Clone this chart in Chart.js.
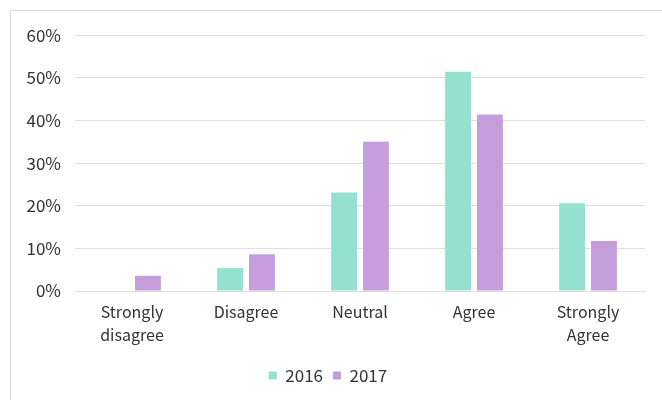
<!DOCTYPE html>
<html>
<head>
<meta charset="utf-8">
<script src="https://cdn.jsdelivr.net/npm/chart.js@4"></script>
<style>
    body { margin: 0; background: #fff; overflow: hidden; }
    #box {
        position: absolute;
        left: 10px;
        top: 10px;
        width: 660px;
        height: 400px;
        border: 1px solid #dcdcdc;
        box-sizing: border-box;
    }
    #wrap { position: absolute; left: 0; top: 0; width: 651px; height: 389px; }
</style>
</head>
<body>
<div id="box">
    <div id="wrap"><canvas id="chart"></canvas></div>
</div>
<script>
// data
const categories = [["Strongly", "disagree"], "Disagree", "Neutral", "Agree", ["Strongly", "Agree"]];
const values2016 = [0, 5.4, 23.1, 51.4, 20.6];
const values2017 = [3.6, 8.6, 35.0, 41.4, 11.7];
const yTicks = [0, 10, 20, 30, 40, 50, 60];

const teal = '#94e0d1';
const purple = '#c59ddb';
const textColor = '#333333';
const gridColor = '#dedede';
const fontFamily = "'Noto Sans CJK KR', 'Noto Sans', sans-serif";

const ctx = document.getElementById('chart');

const myChart = new Chart(ctx, {
    type: 'bar',
    data: {
        labels: categories,
        datasets: [{
            label: '2016',
            data: values2016,
            backgroundColor: teal,
            categoryPercentage: 0.56,
            barPercentage: 0.81
        }, {
            label: '2017',
            data: values2017,
            backgroundColor: purple,
            categoryPercentage: 0.56,
            barPercentage: 0.81
        }]
    },
    options: {
        responsive: true,
        maintainAspectRatio: false,
        animation: false,
        layout: {
            padding: { left: 0, right: 17, top: 16, bottom: 6 }
        },
        plugins: {
            legend: {
                position: 'bottom',
                labels: {
                    color: textColor,
                    font: { family: fontFamily, size: 17 },
                    boxWidth: 8,
                    boxHeight: 8,
                    padding: 10
                }
            },
            tooltip: { enabled: false }
        },
        scales: {
            x: {
                grid: { display: false },
                border: { color: gridColor },
                ticks: {
                    color: textColor,
                    font: { family: fontFamily, size: 16, lineHeight: 1.45 },
                    maxRotation: 0,
                    padding: 1
                },
                afterFit: function (scale) {
                    scale.height = 66;
                }
            },
            y: {
                min: 0,
                max: 60,
                afterBuildTicks: function (scale) {
                    scale.ticks = yTicks.map(v => ({ value: v }));
                },
                grid: { color: gridColor, drawTicks: false },
                border: { display: false },
                ticks: {
                    color: textColor,
                    font: { family: fontFamily, size: 17 },
                    padding: 14,
                    callback: v => v + '%'
                },
                afterFit: function (scale) {
                    scale.width = 64;
                }
            }
        }
    }
});
</script>
</body>
</html>
